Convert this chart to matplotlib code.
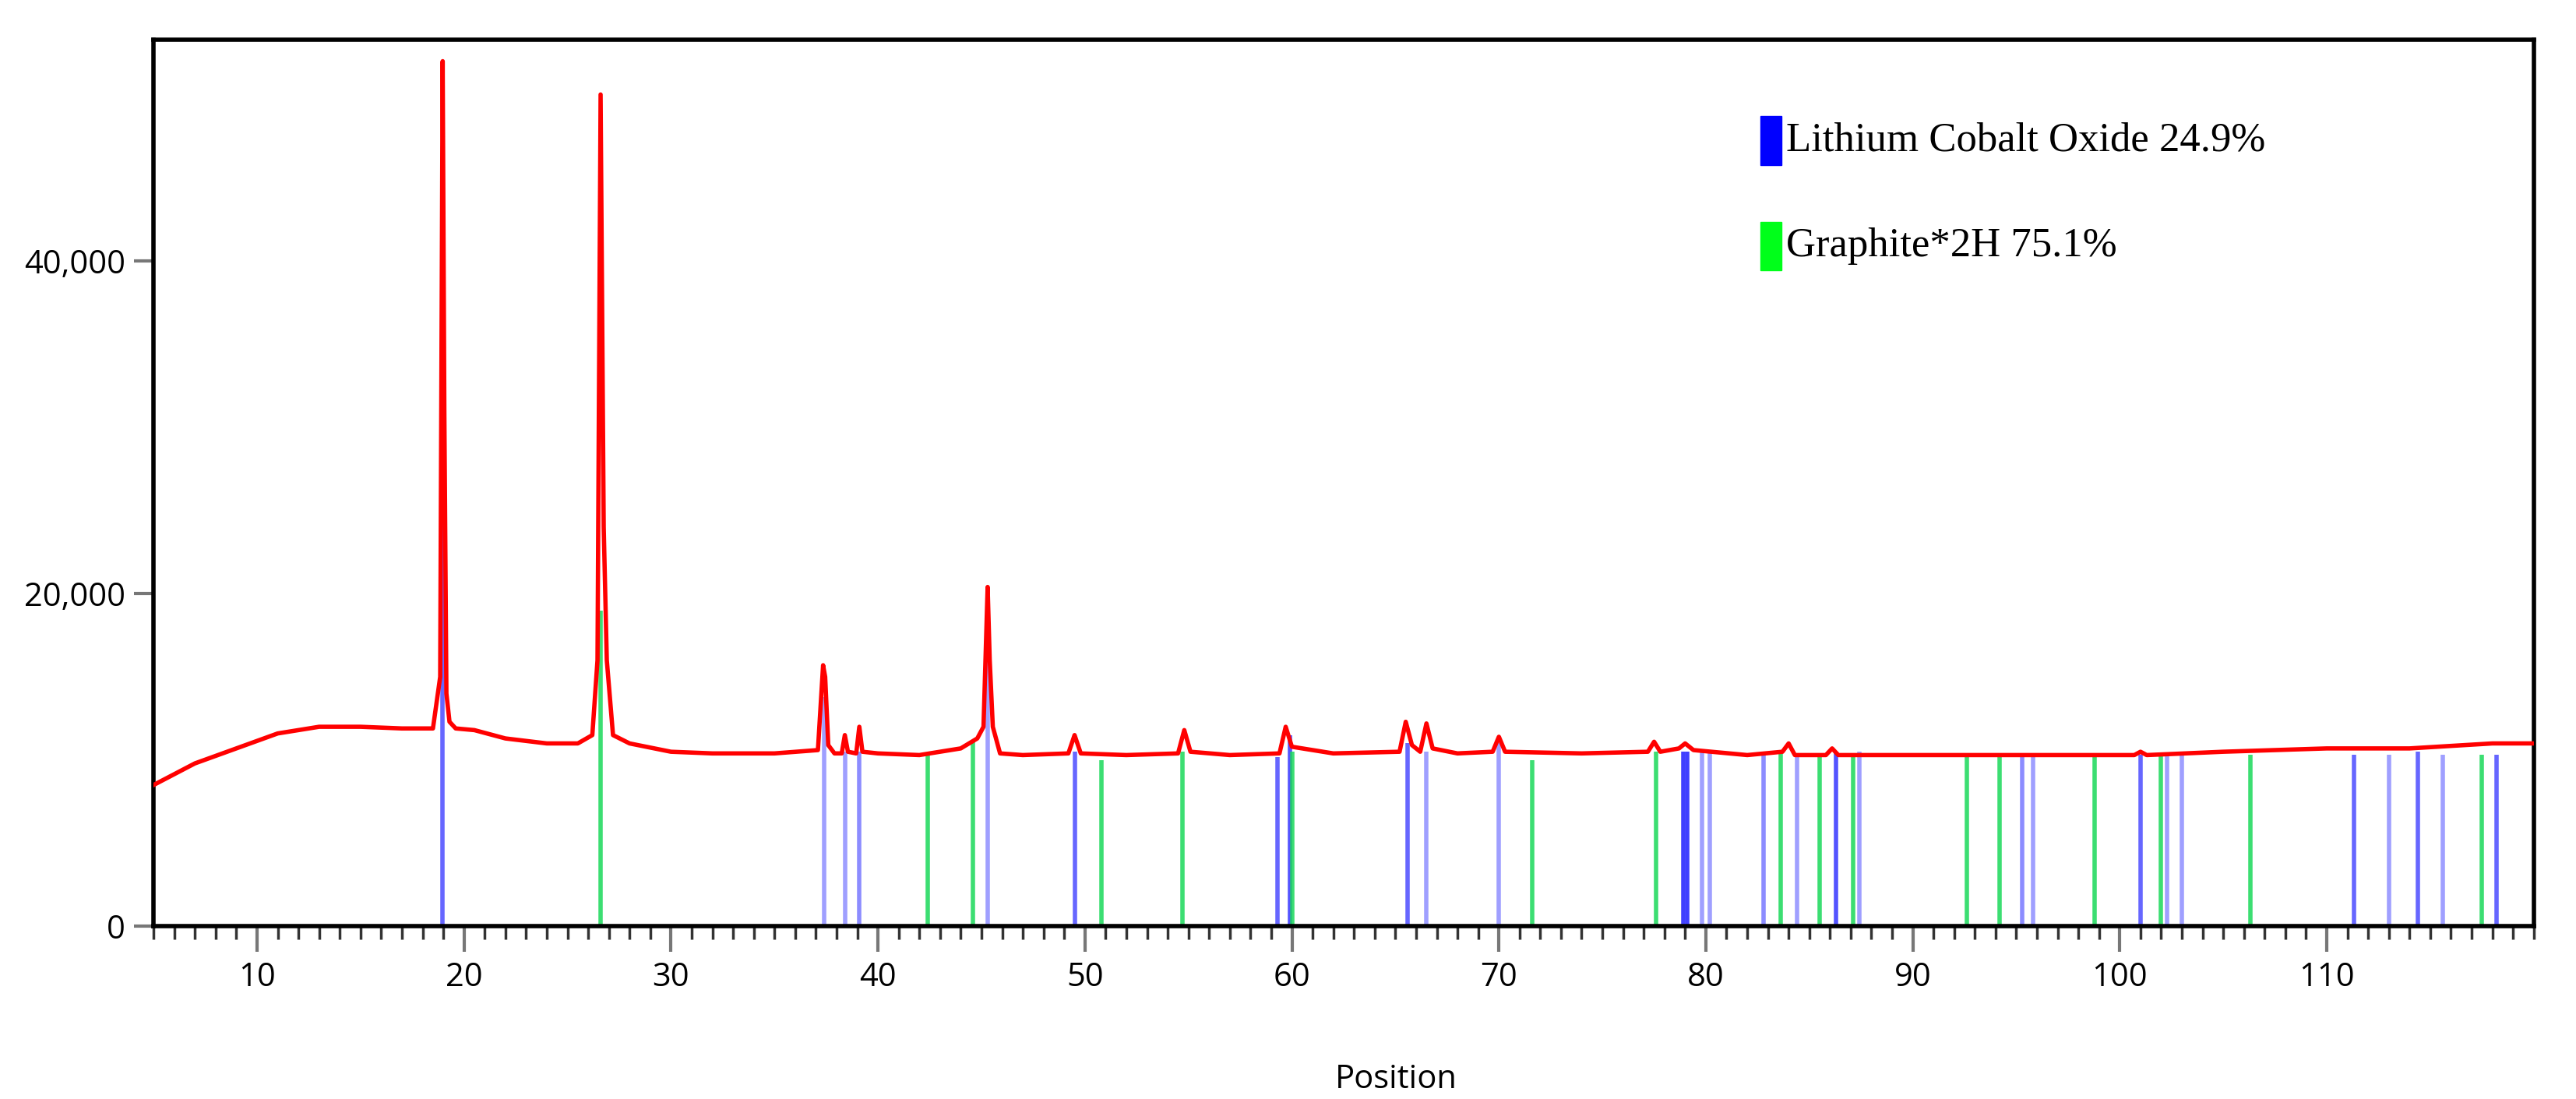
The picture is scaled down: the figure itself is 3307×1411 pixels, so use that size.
import matplotlib.pyplot as plt
import numpy as np
from matplotlib.patches import Rectangle
from matplotlib.ticker import FuncFormatter, MultipleLocator

# measured profile (position, counts)
prof_x = [5, 7, 9, 11, 13, 15, 17, 18.5, 18.85, 18.97, 19.05, 19.15, 19.3, 19.6, 20.5, 22, 24, 25.5, 26.2, 26.45, 26.6, 26.75, 26.9, 27.2, 28, 30, 32, 35, 37.1, 37.35, 37.45, 37.6, 37.9,
          38.25, 38.4, 38.55, 38.95, 39.1, 39.25, 40, 42, 44, 44.8, 45.1, 45.3, 45.4, 45.55, 45.9, 47, 49.2, 49.5, 49.8, 52, 54.5, 54.8, 55.1, 57, 59.4, 59.7, 60, 62,
          65.2, 65.5, 65.8, 66.2, 66.5, 66.8, 68, 69.7, 70, 70.3, 74, 77.2, 77.5, 77.8, 78.7, 79, 79.4, 82, 83.7, 84, 84.3, 85.8, 86.1, 86.4, 90, 95, 100.7, 101, 101.3, 105, 110, 114, 118, 120]
prof_y = [8500, 9800, 10700, 11600, 12000, 12000, 11900, 11900, 15000, 52000, 31000, 14000, 12300, 11900, 11800, 11300, 11000, 11000, 11500, 16000, 50000, 24000, 16000, 11500, 11000, 10500, 10400, 10400, 10600, 15700, 15000, 10900, 10400,
          10400, 11500, 10500, 10400, 12000, 10500, 10400, 10300, 10700, 11300, 12000, 20400, 16000, 12000, 10400, 10300, 10400, 11500, 10400, 10300, 10400, 11800, 10500, 10300, 10400, 12000, 10800, 10400,
          10500, 12300, 10900, 10500, 12200, 10700, 10400, 10500, 11400, 10500, 10400, 10500, 11100, 10500, 10700, 11000, 10600, 10300, 10500, 11000, 10300, 10300, 10700, 10300, 10300, 10300, 10300, 10500, 10300, 10500, 10700, 10700, 11000, 11000]

lco_pos = [18.97, 37.4, 38.4, 39.1, 45.3, 49.5, 59.3, 59.9, 65.6, 66.5, 70.0, 78.9, 79.1, 79.8, 80.2, 82.8, 84.4, 86.3, 87.4, 95.3, 95.8, 101.0, 102.3, 103.0, 111.3, 113.0, 114.4, 115.6, 118.2]
lco_int = [25500, 13800, 10500, 10500, 16000, 10500, 10200, 11500, 11000, 10500, 11000, 10500, 10500, 10500, 10500, 10300, 10300, 10500, 10500, 10300, 10300, 10300, 10300, 10300, 10300, 10300, 10500, 10300, 10300]
lco_alpha = [0.8, 0.5, 0.5, 0.6, 0.5, 0.8, 0.8, 0.9, 0.8, 0.5, 0.5, 1.0, 1.0, 0.5, 0.5, 0.6, 0.5, 0.9, 0.5, 0.6, 0.5, 0.8, 0.5, 0.5, 0.8, 0.5, 0.8, 0.5, 0.8]
gr_pos = [26.6, 42.4, 44.6, 50.8, 54.7, 60.0, 71.6, 77.6, 83.6, 85.5, 87.1, 92.6, 94.2, 98.8, 102.0, 106.3, 117.5]
gr_int = [19000, 10300, 11200, 10000, 10500, 10500, 10000, 10500, 10400, 10300, 10300, 10200, 10200, 10200, 10300, 10300, 10300]

legend_labels = ['Lithium Cobalt Oxide 24.9%', 'Graphite*2H 75.1%']

plt.rcParams['font.family'] = ['Open Sans', 'DejaVu Sans']
fig = plt.figure(figsize=(33.07, 14.11), dpi=100)
ax = fig.add_axes([0.0596, 0.157, 0.924, 0.807])

for p, h, a in zip(lco_pos, lco_int, lco_alpha):
    ax.vlines(p, 0, h, color=(0.25, 0.25, 1.0), alpha=a, lw=4, zorder=2)
for p, h in zip(gr_pos, gr_int):
    ax.vlines(p, 0, h, color=(0.1, 0.85, 0.35), alpha=0.85, lw=4, zorder=2)
ax.plot(prof_x, prof_y, color='red', lw=4, zorder=3)

ax.set_xlim(5, 120)
ax.set_ylim(0, 53300)
ax.set_xticks(range(10, 120, 10))
ax.xaxis.set_minor_locator(MultipleLocator(1))
ax.set_yticks([0, 20000, 40000])
ax.yaxis.set_major_formatter(FuncFormatter(lambda v, _: f'{int(v):,}'))
ax.tick_params(axis='both', which='major', labelsize=30, length=24, width=3, color='#777777', direction='out', pad=8)
ax.tick_params(axis='y', which='major', length=18)
ax.tick_params(axis='x', which='minor', length=12, width=2.5, color='#333333', direction='out')
for s in ax.spines.values():
    s.set_linewidth(4)
fig.text(0.542, 0.003, 'Position', fontsize=30, ha='center', va='bottom')

cols = ['blue', (0.0, 1.0, 0.1)]
for i, (lab, c) in enumerate(zip(legend_labels, cols)):
    yy = 0.886 - i * 0.119
    ax.add_patch(Rectangle((0.675, yy - 0.0275), 0.009, 0.055, transform=ax.transAxes, color=c, clip_on=False))
    ax.text(0.686, yy, lab, transform=ax.transAxes, fontsize=38, family='Liberation Serif', va='center')

fig.savefig('out.png', dpi=100)
